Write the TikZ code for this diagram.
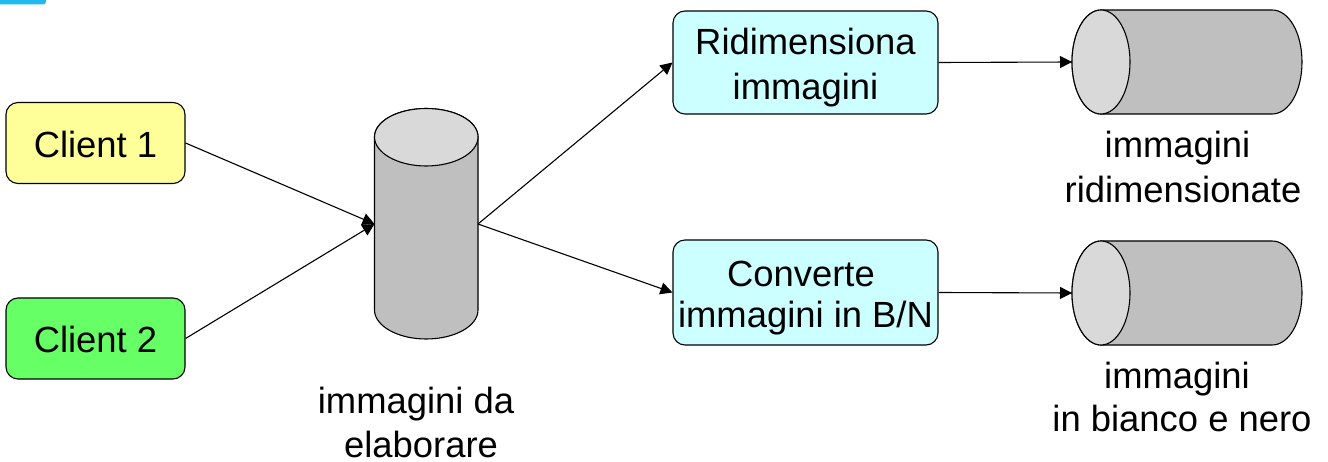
\documentclass[tikz,border=0pt]{standalone}
\usepackage{fontspec}
\setmainfont{Liberation Sans}
\usetikzlibrary{arrows.meta}
\definecolor{cyl}{HTML}{BFBFBF}
\definecolor{cyltop}{HTML}{D9D9D9}
\definecolor{cyb}{HTML}{CCFFFF}
\definecolor{yel}{HTML}{FFFF99}
\definecolor{grn}{HTML}{66FF66}
\definecolor{bar}{HTML}{1FB9EE}
\newcommand{\pad}[1]{\rule{#1}{0pt}}
\newcommand{\lowr}[2]{\raisebox{-#1}[\height][\depth]{#2}}
\tikzset{x=1pt,y=-1pt,
 boxn/.style={draw=black,line width=1.1pt,rounded corners=12pt,minimum width=#1,inner sep=0pt,align=center,font=\fontsize{36.4}{45}\selectfont,text=black},
 lab/.style={align=center,font=\fontsize{36.4}{44.5}\selectfont,inner sep=0pt},
 cn/.style={draw=black,line width=1.1pt,-{Triangle[length=12pt,width=12pt]}},
 cyls/.style={draw=black,line width=1.1pt}}
\newcommand{\hcyl}[3]{% left x, top y, name
 \coordinate (#3) at (#1,#2+52);
 \path[cyls,fill=cyl] (#1+29,#2) -- (#1+200,#2) .. controls (#1+217,#2) and (#1+230,#2+23) .. (#1+230,#2+52) .. controls (#1+230,#2+81) and (#1+217,#2+104) .. (#1+200,#2+104) -- (#1+29,#2+104) .. controls (#1+13,#2+104) and (#1,#2+81) .. (#1,#2+52) .. controls (#1,#2+23) and (#1+13,#2) .. (#1+29,#2) -- cycle;
 \path[cyls,fill=cyltop] (#1+29,#2) .. controls (#1+45,#2) and (#1+58,#2+23) .. (#1+58,#2+52) .. controls (#1+58,#2+81) and (#1+45,#2+104) .. (#1+29,#2+104) .. controls (#1+13,#2+104) and (#1,#2+81) .. (#1,#2+52) .. controls (#1,#2+23) and (#1+13,#2) .. (#1+29,#2) -- cycle;
}
\begin{document}
\begin{tikzpicture}
\useasboundingbox (0,0) rectangle (1328,462);
\fill[fill=white] (0,0) rectangle (1328,462);
\fill[fill=bar,rounded corners=3pt] (-6,-6) rectangle (46,4.5);
\node[boxn=179pt,minimum height=81pt,fill=yel] (c1) at (95.5,143) {\lowr{1.5pt}{Client 1}};
\node[boxn=179pt,minimum height=81pt,fill=grn] (c2) at (95.5,338.5) {\lowr{1pt}{Client 2}};
\path[cyls,fill=cyl] (374.5,137) -- (374.5,310) .. controls (374.5,326) and (398,339) .. (426,339) .. controls (455,339) and (478,326) .. (478,310) -- (478,137) .. controls (478,121) and (455,108.5) .. (426,108.5) .. controls (398,108.5) and (374.5,121) .. (374.5,137) -- cycle;
\path[cyls,fill=cyltop] (374.5,137) .. controls (374.5,153) and (398,166) .. (426,166) .. controls (455,166) and (478,153) .. (478,137) .. controls (478,121) and (455,108.5) .. (426,108.5) .. controls (398,108.5) and (374.5,121) .. (374.5,137) -- cycle;
\coordinate (db) at (374.5,224);
\coordinate (dbr) at (478,224);
\node[boxn=265pt,minimum height=103pt,fill=cyb] (r) at (805.5,62.5) {\lowr{5.5pt}{\begin{tabular}{@{}c@{}}Ridimensiona\\[0.6pt]immagini\end{tabular}}};
\node[boxn=265pt,minimum height=105pt,fill=cyb] (b) at (805.5,292.5) {\lowr{6pt}{\begin{tabular}{@{}c@{}}Converte\pad{9pt}\\[-4pt]immagini in B/N\end{tabular}}};
\hcyl{1072}{10}{d1}
\hcyl{1072}{241}{d2}
\draw[cn] (c1.east) -- (db);
\draw[cn] (c2.east) -- (db);
\draw[cn] (dbr) -- (r.west);
\draw[cn] (dbr) -- (b.west);
\draw[cn] (r.east) -- (d1);
\draw[cn] (b.east) -- (d2);
\node[lab] (l1) at (416,422.5) {immagini da\\\pad{10pt}elaborare};
\node[lab] (l2) at (1183,167) {immagini\pad{11pt}\\ridimensionate};
\node[lab] (l3) at (1182,397) {immagini\pad{10pt}\\[-2pt]in bianco e nero};
\end{tikzpicture}
\end{document}
